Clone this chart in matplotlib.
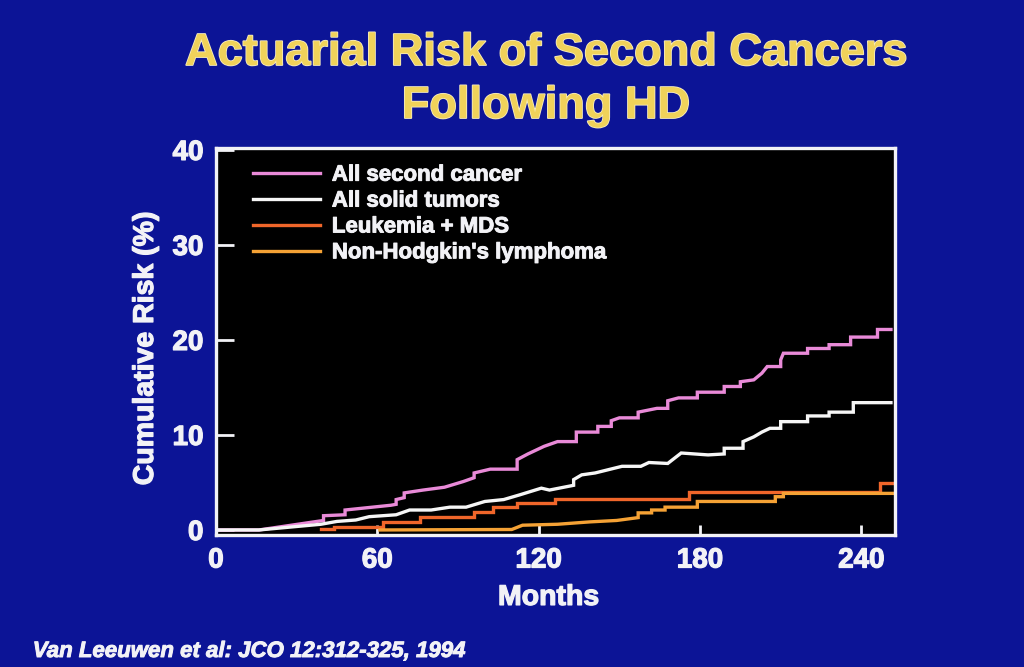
import matplotlib
matplotlib.use('Agg')
import matplotlib.pyplot as plt
import matplotlib.patheffects as pe

# Cumulative risk (%), months since HD treatment
months_all = [0, 16, 40, 40, 48, 48, 65, 67, 67, 70, 70, 77, 85, 92, 96, 96, 102, 112, 112, 116, 122, 127,
              134, 134, 142, 142, 147, 147, 150, 157, 157, 164, 168, 168, 172, 179, 179,
              189, 189, 195, 195, 200, 203, 205, 210, 210, 211, 220, 220, 228, 228,
              236, 236, 246, 246, 251]
risk_all = [0, 0, 1.0, 1.5, 1.6, 2.1, 2.6, 2.7, 3.2, 3.4, 3.9, 4.2, 4.5, 5.1, 5.5, 6.0, 6.4, 6.4, 7.4, 8.0, 8.8, 9.3,
            9.3, 10.3, 10.3, 10.9, 10.9, 11.5, 11.8, 11.8, 12.4, 12.8, 12.8, 13.6, 13.9, 13.9, 14.5,
            14.5, 15.1, 15.1, 15.6, 15.8, 16.5, 17.2, 17.2, 17.9, 18.6, 18.6, 19.1, 19.1, 19.5,
            19.5, 20.3, 20.3, 21.1, 21.1]

months_solid = [0, 16, 39, 45, 52, 57, 67, 72, 80, 87, 93, 100, 107, 113, 121, 124, 133, 133,
                136, 141, 151, 158, 161, 168, 173, 183, 189, 189, 196, 196, 200, 203, 206,
                210, 210, 220, 220, 228, 228, 237, 237, 251]
risk_solid = [0, 0, 0.6, 0.9, 1.05, 1.4, 1.6, 2.1, 2.1, 2.4, 2.4, 3.0, 3.2, 3.7, 4.4, 4.2, 4.7, 5.3,
              5.8, 6.0, 6.7, 6.7, 7.1, 7.0, 8.1, 7.9, 8.0, 8.6, 8.6, 9.3, 9.8, 10.3, 10.7,
              10.7, 11.4, 11.4, 12.0, 12.0, 12.4, 12.4, 13.4, 13.4]

months_leuk = [39, 44, 44, 62, 62, 76, 76, 96, 96, 103, 103, 112, 112, 126, 126, 176, 176, 247, 247, 252]
risk_leuk = [0.05, 0.05, 0.35, 0.35, 0.85, 0.85, 1.4, 1.4, 1.9, 1.9, 2.4, 2.4, 2.8, 2.8, 3.3, 3.3,
             3.95, 3.95, 4.9, 4.9]

months_nhl = [61, 110, 114, 127, 139, 149, 157, 157, 162, 162, 167, 167, 179, 179, 208, 208, 211, 211, 252]
risk_nhl = [0, 0.05, 0.5, 0.6, 0.85, 1.0, 1.3, 1.8, 1.8, 2.1, 2.1, 2.4, 2.4, 3.0, 3.0, 3.5, 3.5, 3.85, 3.85]

labels = ['All second cancer', 'All solid tumors', 'Leukemia + MDS', "Non-Hodgkin's lymphoma"]
colors = ['#e98ad8', '#f6f6f6', '#f0662a', '#f5a235']

x_ticks = [0, 60, 120, 180, 240]
y_ticks = [0, 10, 20, 30, 40]

plt.rcParams['font.family'] = ['Liberation Sans', 'DejaVu Sans']
plt.rcParams['font.weight'] = 'bold'

bg = '#0c1496'
fg = '#f2f2f6'
# Helvetica on the slide is heavier than Liberation Sans Bold, thicken a bit
heavy = [pe.withStroke(linewidth=0.9, foreground=fg)]

fig = plt.figure(figsize=(10.24, 6.67), dpi=100, facecolor=bg)
ax = fig.add_axes([0.2109, 0.1979, 0.6631, 0.5802], facecolor='black')

series = [(months_all, risk_all), (months_solid, risk_solid),
          (months_leuk, risk_leuk), (months_nhl, risk_nhl)]
for (m, r), lab, c in zip(series, labels, colors):
    ax.plot(m, r, color=c, lw=2.4, label=lab, solid_joinstyle='miter')

ax.set_xlim(0, 252.5)
ax.set_ylim(-0.53, 40.2)
ax.set_xticks(x_ticks)
ax.set_yticks(y_ticks)

for s in ax.spines.values():
    s.set_color(fg)
    s.set_linewidth(2.4)

ax.tick_params(axis='y', direction='in', length=13, width=2, color=fg,
               labelcolor=fg, labelsize=20, pad=9)
ax.tick_params(axis='x', direction='in', length=7, width=2, color=fg,
               labelcolor=fg, labelsize=20, pad=9)
for t in ax.get_xticklabels() + ax.get_yticklabels():
    t.set_path_effects(heavy)

ax.set_ylabel('Cumulative Risk (%)', color=fg, fontsize=20.5, fontweight='bold', path_effects=heavy)
ax.yaxis.set_label_coords(-0.084, 0.482)
ax.set_xlabel('Months', color=fg, fontsize=20.5, fontweight='bold', path_effects=heavy)
ax.xaxis.set_label_coords(0.490, -0.129)

leg = ax.legend(loc='upper left', bbox_to_anchor=(0.0545, 0.957), frameon=False,
                fontsize=16, handlelength=3.0, handletextpad=0.55, labelspacing=0.22,
                borderpad=0, borderaxespad=0)
for t in leg.get_texts():
    t.set_color(fg)
    t.set_fontweight('bold')
    t.set_path_effects([pe.withStroke(linewidth=0.7, foreground=fg)])

# Title
title_col = '#f0d25a'
outline = [pe.withStroke(linewidth=1.2, foreground='#f6ecc0')]
fig.text(0.533, 0.9025, 'Actuarial Risk of Second Cancers', ha='center', va='baseline',
         fontsize=32.5, fontweight='bold', color=title_col, path_effects=outline)
fig.text(0.533, 0.823, 'Following HD', ha='center', va='baseline',
         fontsize=32.5, fontweight='bold', color=title_col, path_effects=outline)

# Source
fig.text(0.032, 0.015, 'Van Leeuwen et al: JCO 12:312-325, 1994', ha='left', va='baseline',
         fontsize=16, fontweight='bold', fontstyle='italic', color=fg,
         path_effects=[pe.withStroke(linewidth=0.7, foreground=fg)])

fig.savefig('out.png', dpi=100, facecolor=bg)
